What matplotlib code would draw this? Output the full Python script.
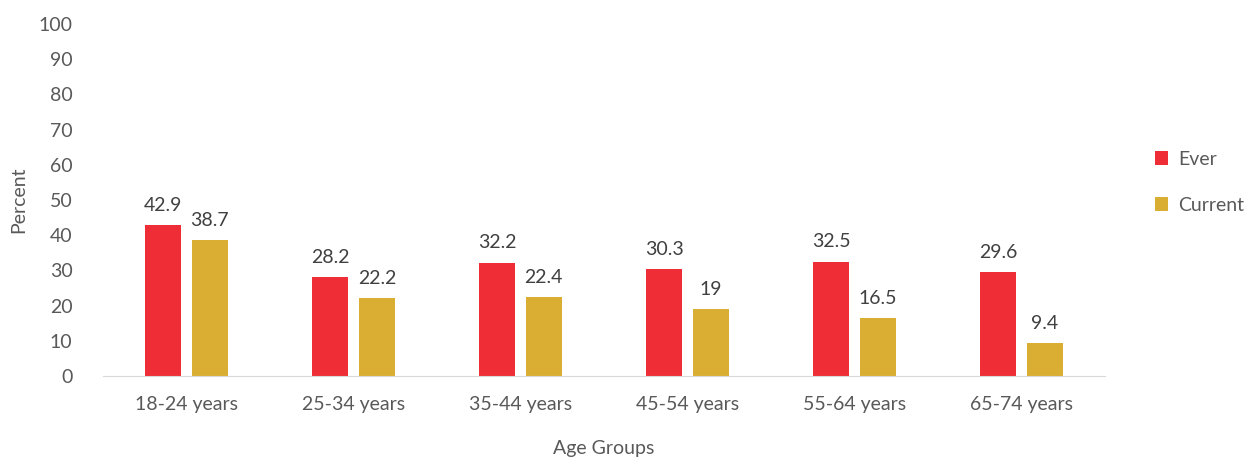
import numpy as np
import matplotlib.pyplot as plt

plt.rcParams['font.family'] = ['Lato', 'DejaVu Sans']

# tobacco use by age group
groups = ["18-24 years", "25-34 years", "35-44 years", "45-54 years", "55-64 years", "65-74 years"]
ever = [42.9, 28.2, 32.2, 30.3, 32.5, 29.6]
current = [38.7, 22.2, 22.4, 19, 16.5, 9.4]

red = "#EE2D36"
gold = "#DAAE32"
grey = "#595959"
fs = 14

fig = plt.figure(figsize=(12.47, 4.62), dpi=100)
ax = fig.add_axes([0.0826, 0.186, 0.8034, 0.762])

x = np.arange(len(groups))
w = 0.216
off = 0.14
b1 = ax.bar(x - off, ever, w, color=red, label="Ever")
b2 = ax.bar(x + off, current, w, color=gold, label="Current")

for bars, vals in ((b1, ever), (b2, current)):
    for rect, v in zip(bars, vals):
        ax.text(rect.get_x() + rect.get_width() / 2, v + 3.2, f"{v:g}",
                ha="center", va="bottom", fontsize=fs, color="#404040")

ax.set_xlim(-0.5, len(groups) - 0.5)
ax.set_ylim(0, 100)
ax.set_yticks(range(0, 101, 10))
ax.set_xticks(x)
ax.set_xticklabels(groups)
ax.tick_params(length=0, labelsize=fs, labelcolor=grey)
ax.tick_params(axis="y", pad=22)
ax.tick_params(axis="x", pad=14)

for s in ("top", "right", "left"):
    ax.spines[s].set_visible(False)
ax.spines["bottom"].set_color("#D9D9D9")

ax.set_ylabel("Percent", fontsize=fs, color=grey, labelpad=8)
ax.set_xlabel("Age Groups", fontsize=fs, color=grey, labelpad=20)

fig.legend(handles=[b1, b2], loc="center left", bbox_to_anchor=(0.912, 0.605),
           frameon=False, fontsize=fs, labelcolor=grey, handlelength=0.7,
           handleheight=0.7, handletextpad=0.5, labelspacing=1.5)

fig.savefig("out.png", dpi=100)
